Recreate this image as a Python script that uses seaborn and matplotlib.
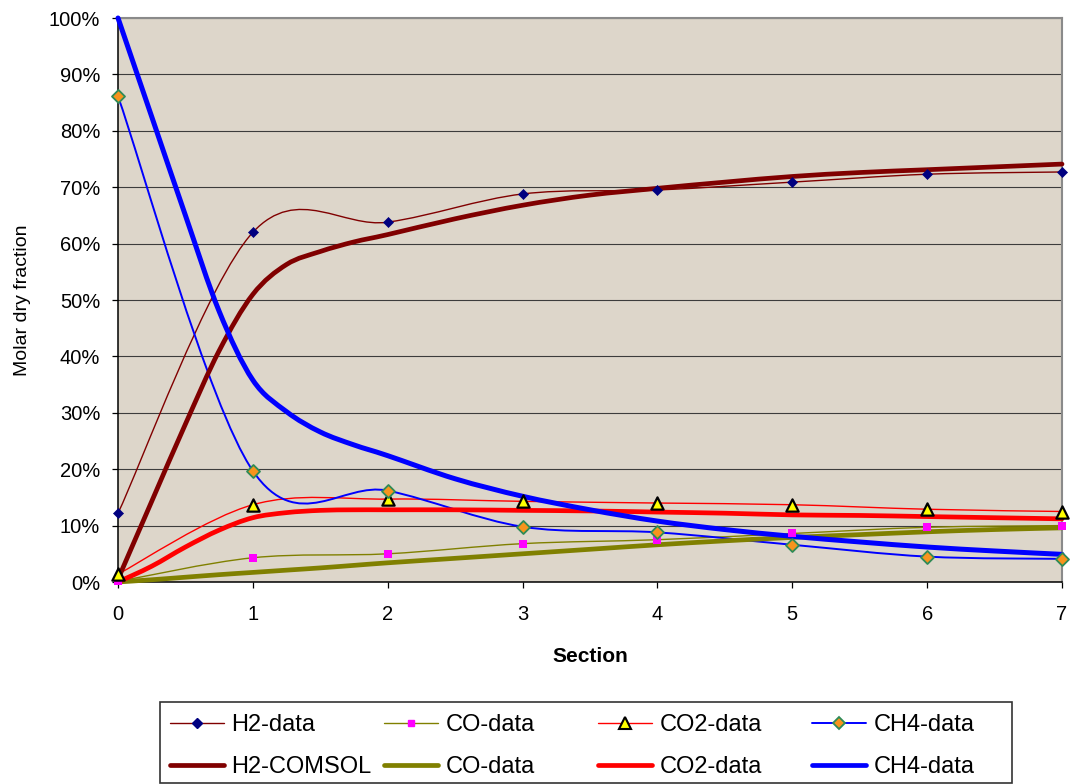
import numpy as np
import matplotlib
matplotlib.use("Agg")
import matplotlib.pyplot as plt
from matplotlib.path import Path
from matplotlib.patches import PathPatch, Rectangle
from matplotlib.lines import Line2D
import seaborn as sns

# ---------------- data (percent) ----------------
sections = [0, 1, 2, 3, 4, 5, 6, 7]
h2_data = [12.2, 62.0, 63.8, 68.8, 69.5, 70.9, 72.3, 72.7]
co_data = [0.1, 4.3, 5.0, 6.8, 7.5, 8.6, 9.7, 10.0]
co2_data = [1.4, 13.7, 14.7, 14.3, 14.0, 13.7, 12.9, 12.5]
ch4_data = [86.1, 19.7, 16.2, 9.8, 8.8, 6.6, 4.5, 4.1]

comsol_x = [0, 0.25, 0.5, 0.75, 1, 1.25, 1.5, 1.75, 2, 2.5, 3, 3.5, 4, 4.5, 5, 5.5, 6, 6.5, 7]
h2_comsol = [0.5, 14.3, 28.0, 41.0, 51.0, 56.3, 58.6, 60.3, 61.6, 64.4, 66.8, 68.6, 69.8, 70.9, 71.9, 72.6, 73.1, 73.6, 74.1]
co_comsol = [0.0, 0.4, 0.85, 1.3, 1.7, 2.1, 2.5, 2.95, 3.4, 4.2, 5.0, 5.8, 6.6, 7.3, 7.9, 8.4, 8.9, 9.3, 9.6]
co2_comsol = [0.0, 2.8, 6.2, 9.2, 11.4, 12.3, 12.7, 12.8, 12.8, 12.8, 12.7, 12.6, 12.4, 12.2, 11.9, 11.8, 11.6, 11.4, 11.2]
ch4_comsol = [100.0, 82.5, 65.0, 48.0, 35.8, 30.2, 26.6, 24.3, 22.4, 18.3, 15.2, 12.8, 10.8, 9.3, 8.1, 7.1, 6.2, 5.5, 4.9]

x_ticks = [0, 1, 2, 3, 4, 5, 6, 7]
x_tick_labels = ["0", "1", "2", "3", "4", "5", "6", "7"]
y_ticks = [0, 10, 20, 30, 40, 50, 60, 70, 80, 90, 100]
y_tick_labels = ["0%", "10%", "20%", "30%", "40%", "50%", "60%", "70%", "80%", "90%", "100%"]

data_labels = ["H2-data", "CO-data", "CO2-data", "CH4-data"]
comsol_labels = ["H2-COMSOL", "CO-data", "CO2-data", "CH4-data"]

# ---------------- style ----------------
sns.set_theme(style="white")
plt.rcParams["font.family"] = ["Liberation Sans", "DejaVu Sans"]

W, H = 1077, 784
fig = plt.figure(figsize=(W / 100, H / 100), dpi=100)
fig.patch.set_facecolor("white")

L, R, T, B = 118, 1062, 18, 582
ax = fig.add_axes([L / W, 1 - B / H, (R - L) / W, (B - T) / H])
ax.set_facecolor("#DDD6CA")


def smooth_path(xs, ys):
    """Excel-like smoothed line: Bezier through the points (Catmull-Rom controls)."""
    pts = np.column_stack([np.asarray(xs, float), np.asarray(ys, float)])
    n = len(pts)
    verts = [pts[0]]
    codes = [Path.MOVETO]
    for i in range(n - 1):
        p0 = pts[i - 1] if i > 0 else pts[i]
        p1 = pts[i]
        p2 = pts[i + 1]
        p3 = pts[i + 2] if i + 2 < n else pts[i + 1]
        c1 = p1 + (p2 - p0) / 6.0
        c2 = p2 - (p3 - p1) / 6.0
        verts += [c1, c2, p2]
        codes += [Path.CURVE4] * 3
    return Path(verts, codes)


def draw_curve(xs, ys, color, lw, z):
    patch = PathPatch(smooth_path(xs, ys), facecolor="none", edgecolor=color,
                      lw=lw, capstyle="round", joinstyle="round", zorder=z,
                      clip_on=False)
    ax.add_patch(patch)


# thin smoothed data lines
draw_curve(sections, h2_data, "#800000", 1.0, 3)
draw_curve(sections, co_data, "#808000", 1.0, 3)
draw_curve(sections, co2_data, "#FF0000", 1.0, 3)
draw_curve(sections, ch4_data, "#0000FF", 1.4, 3)

# thick COMSOL lines
draw_curve(comsol_x, h2_comsol, "#800000", 3.4, 4)
draw_curve(comsol_x, co_comsol, "#808000", 3.4, 4)
draw_curve(comsol_x, co2_comsol, "#FF0000", 3.4, 4)
draw_curve(comsol_x, ch4_comsol, "#0000FF", 3.6, 4)

# markers via seaborn
sns.scatterplot(x=sections, y=h2_data, marker="D", s=26, color="#000080",
                edgecolor="#000080", linewidth=0.5, ax=ax, zorder=6, clip_on=False)
sns.scatterplot(x=sections, y=co_data, marker="s", s=28, color="#FF00FF",
                edgecolor="#FF00FF", linewidth=0, ax=ax, zorder=6, clip_on=False)
sns.scatterplot(x=sections, y=co2_data, marker="^", s=78, color="#FFFF00",
                edgecolor="black", linewidth=1.6, ax=ax, zorder=6, clip_on=False)
sns.scatterplot(x=sections, y=ch4_data, marker="D", s=44, color="#F7941D",
                edgecolor="#2E8B57", linewidth=1.3, ax=ax, zorder=6, clip_on=False)

# axes
ax.set_xlim(0, 7)
ax.set_ylim(0, 100)
ax.set_xticks(x_ticks)
ax.set_xticklabels(x_tick_labels)
ax.set_yticks(y_ticks)
ax.set_yticklabels(y_tick_labels)
ax.yaxis.grid(True, color="#3C3C3C", lw=0.8)
ax.xaxis.grid(False)
ax.set_axisbelow(True)
ax.tick_params(axis="both", which="major", direction="out", length=4.3, width=0.9,
               color="black", labelsize=14.5, labelcolor="black")
ax.tick_params(axis="y", pad=8.5, left=True)
ax.tick_params(axis="x", pad=12.5, bottom=True)
for side in ["left", "bottom"]:
    ax.spines[side].set_color("black")
    ax.spines[side].set_linewidth(1.1)
for side in ["top", "right"]:
    ax.spines[side].set_color("#8A8A8A")
    ax.spines[side].set_linewidth(1.5)

ax.set_ylabel("Molar dry fraction", fontsize=14, color="black")
ax.yaxis.set_label_coords((31 - L) / (R - L), 0.5)
ax.set_xlabel("Section", fontsize=15, fontweight="bold", color="black")
ax.xaxis.set_label_coords(0.5, (B - 647) / (B - T))

# legend: 4 columns, each with data entry + COMSOL entry
data_styles = [
    dict(color="#800000", lw=1.0, marker="D", markersize=5, markerfacecolor="#000080", markeredgecolor="#000080"),
    dict(color="#808000", lw=1.0, marker="s", markersize=5, markerfacecolor="#FF00FF", markeredgecolor="#FF00FF"),
    dict(color="#FF0000", lw=1.0, marker="^", markersize=8, markerfacecolor="#FFFF00", markeredgecolor="black", markeredgewidth=1.5),
    dict(color="#0000FF", lw=1.4, marker="D", markersize=6, markerfacecolor="#F7941D", markeredgecolor="#2E8B57", markeredgewidth=1.3),
]
comsol_colors = ["#800000", "#808000", "#FF0000", "#0000FF"]
col_x = [170, 384, 598, 812]
for i in range(4):
    handles = [Line2D([], [], **data_styles[i]),
               Line2D([], [], color=comsol_colors[i], lw=3.4)]
    leg = fig.legend(handles, [data_labels[i], comsol_labels[i]],
                     loc="center left", bbox_to_anchor=(col_x[i] / W, 1 - 746 / H),
                     frameon=False, fontsize=17, handlelength=2.3, handletextpad=0.3,
                     labelspacing=0.85, borderpad=0, borderaxespad=0)
    for t in leg.get_texts():
        t.set_color("black")

fig.add_artist(Rectangle((160 / W, 1 - 783 / H), (1012 - 160) / W, (783 - 702) / H,
                         transform=fig.transFigure, facecolor="none",
                         edgecolor="#333333", lw=1.2))

fig.savefig("out.png", dpi=100)
